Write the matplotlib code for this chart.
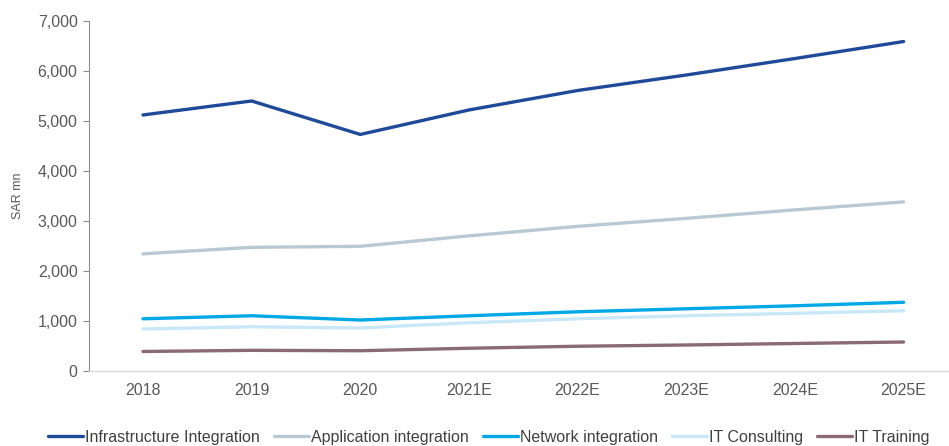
import matplotlib
matplotlib.use("Agg")
import matplotlib.pyplot as plt
from matplotlib.ticker import FuncFormatter
from matplotlib import font_manager

years = ["2018", "2019", "2020", "2021E", "2022E", "2023E", "2024E", "2025E"]
infrastructure = [5120, 5400, 4730, 5220, 5610, 5920, 6250, 6590]
application = [2340, 2470, 2490, 2700, 2890, 3050, 3220, 3380]
network = [1040, 1100, 1015, 1100, 1180, 1240, 1300, 1370]
consulting = [835, 880, 855, 960, 1040, 1100, 1150, 1200]
training = [385, 408, 400, 450, 490, 515, 545, 575]

series_names = ["Infrastructure Integration", "Application integration",
                "Network integration", "IT Consulting", "IT Training"]
colors = ["#1F4A99", "#B8C9D3", "#00A8E6", "#C8E8F8", "#8A6B75"]

fams = {f.name for f in font_manager.fontManager.ttflist}
base = "Liberation Sans" if "Liberation Sans" in fams else "DejaVu Sans"
plt.rcParams['font.family'] = [base, 'DejaVu Sans']

fig = plt.figure(figsize=(9.49, 4.46), dpi=100)
ax = fig.add_axes([0.0934, 0.1688, 0.916, 0.784])

x = list(range(len(years)))
data = [infrastructure, application, network, consulting, training]
for vals, name, c in zip(data, series_names, colors):
    ax.plot(x, vals, color=c, lw=2.4, label=name, solid_capstyle='round')

ax.set_xlim(-0.5, 7.5)
ax.set_ylim(0, 7000)
ax.set_yticks(range(0, 7001, 1000))
ax.yaxis.set_major_formatter(FuncFormatter(lambda v, p: f"{int(v):,}"))
ax.set_xticks(x)
ax.set_xticklabels(years)

for s in ["top", "right"]:
    ax.spines[s].set_visible(False)
ax.spines["left"].set_color("#8C8C8C")
ax.spines["left"].set_linewidth(0.8)
ax.spines["bottom"].set_color("#D9D9D9")
ax.spines["bottom"].set_linewidth(1.0)

ax.tick_params(axis='y', direction='out', length=4, width=0.8, color="#8C8C8C",
               labelsize=11.5, labelcolor="#595959", pad=4)
ax.tick_params(axis='x', length=0, labelsize=11.5, labelcolor="#595959", pad=9)

ax.set_ylabel("SAR mn", fontsize=9, color="#595959", labelpad=10)

leg = fig.legend(loc='center', bbox_to_anchor=(0.515, 0.02), ncol=5, frameon=False,
                 prop={'size': 11.5}, handlelength=2.2,
                 handletextpad=0.1, columnspacing=0.9)
for t in leg.get_texts():
    t.set_color("#404040")

fig.savefig("out.png", dpi=100)
